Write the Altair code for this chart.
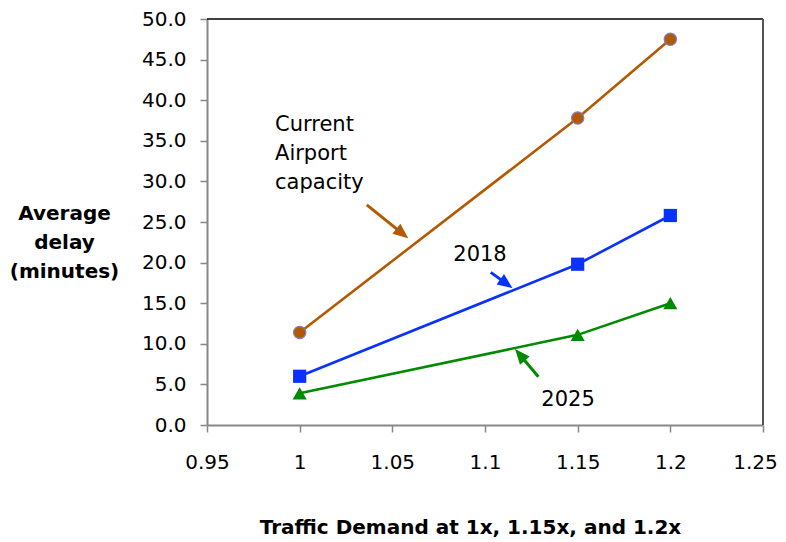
import math
import altair as alt
import pandas as pd

# ---- data ----
demand = [1.0, 1.15, 1.2]
current_capacity = [11.4, 37.8, 47.5]
delay_2018 = [6.0, 19.8, 25.8]
delay_2025 = [3.9, 11.1, 15.0]

x_ticks = [0.95, 1.0, 1.05, 1.1, 1.15, 1.2, 1.25]
y_ticks = [0, 5, 10, 15, 20, 25, 30, 35, 40, 45, 50]

series_names = ["current", "2018", "2025"]

# annotations (data units)
note_text = ["Current\nAirport\ncapacity", "2018", "2025"]
note_x = [0.9867, 1.0973, 1.1448]
note_y = [36.95, 20.9, 3.1]

arrow_x0 = [1.0362, 1.1031, 1.1288]
arrow_y0 = [27.1, 18.8, 5.95]
arrow_x1 = [1.0586, 1.1149, 1.1162]
arrow_y1 = [23.0, 16.85, 9.35]

# ---- styling ----
COLORS = {"current": "#B35A00", "2018": "#0A32FF", "2025": "#008A00"}
FONT = "DejaVu Sans"
W, H = 556, 406
X_DOM = [0.95, 1.25]
Y_DOM = [0, 50]
PX_X = W / (X_DOM[1] - X_DOM[0])
PX_Y = H / (Y_DOM[1] - Y_DOM[0])

rows = []
for name, vals in zip(series_names, [current_capacity, delay_2018, delay_2025]):
    for d, v in zip(demand, vals):
        rows.append({"series": name, "demand": d, "delay": v})
df = pd.DataFrame(rows)

arrows = []
for name, x0, y0, x1, y1 in zip(series_names, arrow_x0, arrow_y0, arrow_x1, arrow_y1):
    dx = (x1 - x0) * PX_X
    dy = -(y1 - y0) * PX_Y  # screen, downwards positive
    ln = math.hypot(dx, dy)
    ux, uy = dx / ln, dy / ln
    ang = math.degrees(math.atan2(dx, -dy)) % 360
    back = 9
    arrows.append({
        "series": name, "x0": x0, "y0": y0,
        "xe": x1 - back * ux / PX_X, "ye": y1 + back * uy / PX_Y,
        "x1": x1, "y1": y1, "angle": ang,
    })
adf = pd.DataFrame(arrows)

xs = alt.Scale(domain=X_DOM, nice=False, zero=False)
ys = alt.Scale(domain=Y_DOM, nice=False, zero=True)
cs = alt.Scale(domain=series_names, range=[COLORS[s] for s in series_names])

x_enc = alt.X("demand:Q", scale=xs, axis=alt.Axis(
    values=x_ticks, labelExpr="format(datum.value, '~g')",
    title="Traffic Demand at 1x, 1.15x, and 1.2x",
    titleX=263, titleY=108, titleAlign="center", titleBaseline="alphabetic",
    labelPadding=20, labelFlush=False, labelOverlap=False,
    labelOffset={"condition": {"test": "datum.value > 1.24", "value": -8}, "value": 0}))
y_enc = alt.Y("delay:Q", scale=ys, axis=alt.Axis(
    values=y_ticks, format=".1f",
    title=["Average", "delay", "(minutes)"],
    titleAngle=0, titleX=-143, titleY=194, titleAlign="center",
    titleBaseline="middle", titleLineHeight=29,
    labelPadding=14, labelFlush=False, labelOverlap=False))

base = alt.Chart(df)

border_top = alt.Chart(pd.DataFrame({"v": [Y_DOM[1]]})).mark_rule(
    color="#000000", strokeWidth=1.5).encode(y=alt.Y("v:Q", scale=ys))
border_right = alt.Chart(pd.DataFrame({"v": [X_DOM[1]]})).mark_rule(
    color="#555555", strokeWidth=2).encode(x=alt.X("v:Q", scale=xs))

lines = base.mark_line(strokeWidth=2.6).encode(
    x=x_enc, y=y_enc,
    color=alt.Color("series:N", scale=cs, legend=None),
    detail="series:N")

pts_c = base.transform_filter(alt.datum.series == "current").mark_point(
    shape="circle", filled=True, size=150, fill=COLORS["current"],
    stroke="#7D7DC0", strokeWidth=1.2, opacity=1).encode(x="demand:Q", y="delay:Q")
pts_s = base.transform_filter(alt.datum.series == "2018").mark_point(
    shape="square", filled=True, size=175, color=COLORS["2018"], opacity=1).encode(
    x="demand:Q", y="delay:Q")
pts_t = base.transform_filter(alt.datum.series == "2025").mark_point(
    shape="triangle-up", filled=True, size=200, color=COLORS["2025"], opacity=1).encode(
    x="demand:Q", y="delay:Q")

arrow_base = alt.Chart(adf)
arrow_lines = arrow_base.mark_rule(strokeWidth=3).encode(
    x=alt.X("x0:Q", scale=xs), y=alt.Y("y0:Q", scale=ys),
    x2="xe:Q", y2="ye:Q",
    color=alt.Color("series:N", scale=cs, legend=None))
arrow_heads = arrow_base.mark_point(
    shape="M0,0 L-0.48,1.15 L0.48,1.15 Z", filled=True, size=700, opacity=1).encode(
    x=alt.X("x1:Q", scale=xs), y=alt.Y("y1:Q", scale=ys),
    angle=alt.Angle("angle:Q", scale=None),
    color=alt.Color("series:N", scale=cs, legend=None))

ndf = pd.DataFrame({"text": note_text, "x": note_x, "y": note_y})
note_left = alt.Chart(ndf.iloc[[0]]).mark_text(
    align="left", baseline="middle", font=FONT, fontSize=21, lineHeight=29,
    lineBreak="\n", color="#000000").encode(
    x=alt.X("x:Q", scale=xs), y=alt.Y("y:Q", scale=ys), text="text:N")
note_center = alt.Chart(ndf.iloc[[1, 2]]).mark_text(
    align="center", baseline="middle", font=FONT, fontSize=21,
    color="#000000").encode(
    x=alt.X("x:Q", scale=xs), y=alt.Y("y:Q", scale=ys), text="text:N")

chart = alt.layer(
    border_top, border_right, lines, pts_c, pts_s, pts_t,
    arrow_lines, arrow_heads, note_left, note_center
).properties(
    width=W, height=H,
    autosize=alt.AutoSizeParams(type="none"),
    padding={"left": 199, "top": 11, "right": 15, "bottom": 115},
    background="#FFFFFF",
).configure_view(stroke=None).configure_axis(
    grid=False,
    domainColor="#888888", domainWidth=2,
    tickColor="#888888", tickWidth=1.5, tickSize=7,
    labelFont=FONT, labelFontSize=20, labelColor="#000000",
    titleFont=FONT, titleFontSize=20, titleFontWeight="bold", titleColor="#000000",
)

chart.save("out.html", embed_options={"renderer": "svg", "actions": False})
